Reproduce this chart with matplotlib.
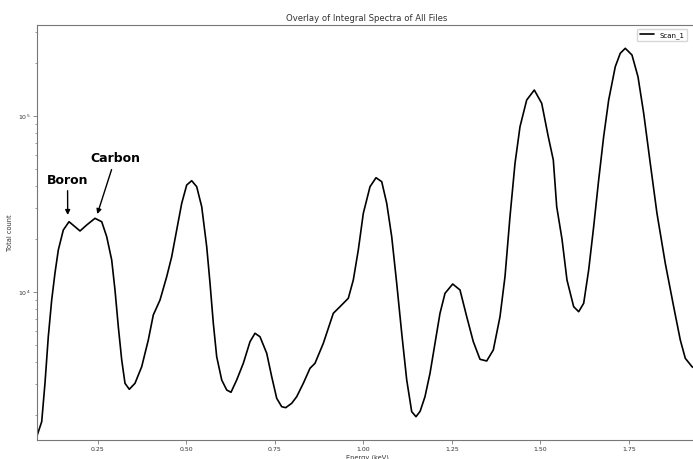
import matplotlib
matplotlib.use("Agg")
import matplotlib.pyplot as plt

energy_kev = [0.0785, 0.0910, 0.1003, 0.1096, 0.1192, 0.1285, 0.1379, 0.1520, 0.1681, 0.1850,
              0.1992, 0.2181, 0.2415, 0.2605, 0.2746, 0.2887, 0.2980, 0.3074, 0.3170, 0.3263,
              0.3384, 0.3545, 0.3735, 0.3921, 0.4062, 0.4252, 0.4441, 0.4582, 0.4723, 0.4865,
              0.5006, 0.5147, 0.5288, 0.5430, 0.5571, 0.5664, 0.5757, 0.5853, 0.5995, 0.6136,
              0.6257, 0.6418, 0.6605, 0.6794, 0.6935, 0.7076, 0.7266, 0.7407, 0.7548, 0.7689,
              0.7802, 0.7972, 0.8113, 0.8300, 0.8489, 0.8630, 0.8865, 0.9147, 0.9336, 0.9571,
              0.9712, 0.9853, 0.9995, 1.0184, 1.0354, 1.0515, 1.0656, 1.0797, 1.0938, 1.1080,
              1.1221, 1.1362, 1.1483, 1.1600, 1.1737, 1.1879, 1.2020, 1.2161, 1.2303, 1.2520,
              1.2726, 1.2916, 1.3102, 1.3291, 1.3480, 1.3667, 1.3856, 1.3997, 1.4138, 1.4280,
              1.4421, 1.4610, 1.4825, 1.5034, 1.5220, 1.5362, 1.5458, 1.5607, 1.5748, 1.5937,
              1.6079, 1.6220, 1.6361, 1.6502, 1.6643, 1.6784, 1.6926, 1.7112, 1.7253, 1.7395,
              1.7584, 1.7754, 1.7915, 1.8101, 1.8290, 1.8525, 1.8762, 1.8949, 1.9090, 1.9279,
              1.9340]
total_count = [1540, 1833, 3041, 5570, 9006, 12820, 17320, 22500, 25080, 23500,
               22220, 24030, 26220, 25080, 20620, 15200, 10270, 6350, 4108, 3028,
               2800, 3028, 3764, 5337, 7402, 9006, 12220, 15870, 22500, 31920,
               40550, 42900, 39660, 30520, 18090, 11250, 6666, 4290, 3162, 2774,
               2692, 3162, 3934, 5219, 5826, 5570, 4484, 3302, 2489, 2230,
               2201, 2331, 2542, 3028, 3686, 3934, 5110, 7568, 8251, 9210,
               11700, 17320, 28010, 39660, 44610, 42340, 31920, 20620, 11210, 5826,
               3162, 2089, 1956, 2100, 2542, 3452, 5110, 7568, 9831, 11100,
               10270, 7240, 5219, 4146, 4055, 4684, 7240, 12220, 26780, 53840,
               86950, 123300, 140500, 118100, 76290, 56230, 30520, 20000, 11700, 8251,
               7728, 8627, 13340, 23500, 43280, 76290, 123300, 190600, 227200, 242500,
               222200, 167200, 103600, 53840, 28010, 14560, 8251, 5337, 4201, 3764,
               3700]

series_name = "Scan_1"
title = "Overlay of Integral Spectra of All Files"
xlabel = "Energy (keV)"
ylabel = "Total count"
x_ticks = [0.25, 0.50, 0.75, 1.00, 1.25, 1.50, 1.75]

W, H = 693, 459
fig = plt.figure(figsize=(W / 100, H / 100), dpi=100)
ax = fig.add_axes([37 / W, (H - 440) / H, (697 - 37) / W, (440 - 25) / H])

ax.plot(energy_kev, total_count, color="black", lw=1.2, label=series_name,
        solid_joinstyle="round", solid_capstyle="round")
ax.set_yscale("log")
ax.set_xlim(0.0777, 1.9421)
ax.set_ylim(1442, 3.29e5)
ax.set_xticks(x_ticks)
ax.set_xticklabels([f"{t:.2f}" for t in x_ticks])

for s in ax.spines.values():
    s.set_color("#777777")
    s.set_linewidth(0.8)
ax.spines["right"].set_visible(False)

ax.tick_params(axis="both", which="major", labelsize=4.5, length=3, width=0.6,
               color="#777777", labelcolor="#333333", pad=2)
ax.tick_params(axis="both", which="minor", length=1.8, width=0.5, color="#777777")

ax.set_title(title, fontsize=6.1, color="#333333", pad=3)
ax.set_xlabel(xlabel, fontsize=4.8, color="#333333", labelpad=1.5)
ax.set_ylabel(ylabel, fontsize=4.8, color="#333333", labelpad=3)

ax.annotate("Boron", xy=(0.1644, 27380), xytext=(0.164, 43270),
            ha="center", va="center", fontsize=9, fontweight="bold",
            arrowprops=dict(arrowstyle="-|>", color="black", lw=1, mutation_scale=7,
                            shrinkA=1, shrinkB=0))
ax.annotate("Carbon", xy=(0.248, 27730), xytext=(0.298, 57000),
            ha="center", va="center", fontsize=9, fontweight="bold",
            arrowprops=dict(arrowstyle="-|>", color="black", lw=1, mutation_scale=7,
                            shrinkA=1, shrinkB=0))

ax.legend(loc="upper right", bbox_to_anchor=(687 / W, 1 - 29 / H),
          bbox_transform=fig.transFigure, borderaxespad=0, fontsize=5,
          frameon=True, fancybox=True)

fig.savefig("out.png", dpi=100)
